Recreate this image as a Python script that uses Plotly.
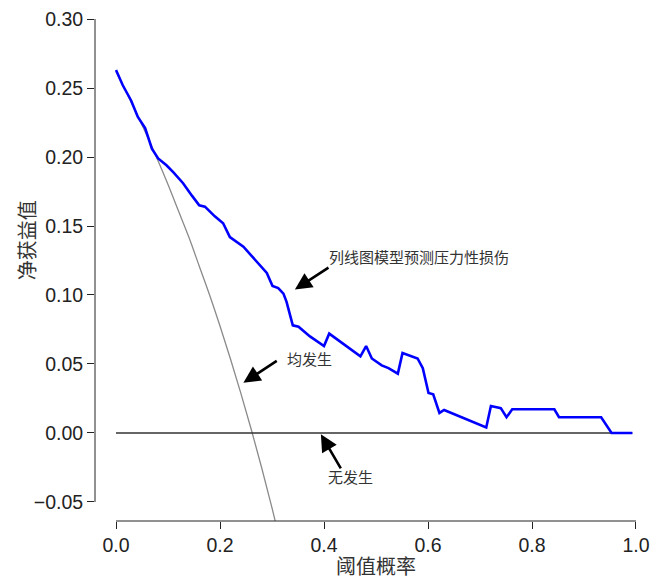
import plotly.graph_objects as go

# Model net benefit (blue)
model_x = [0.000, 0.013, 0.029, 0.042, 0.056, 0.069, 0.081, 0.097, 0.110, 0.129,
           0.146, 0.160, 0.171, 0.190, 0.206, 0.219, 0.245, 0.283, 0.290, 0.301,
           0.312, 0.322, 0.328, 0.340, 0.351, 0.373, 0.400, 0.410, 0.470, 0.481,
           0.492, 0.511, 0.524, 0.542, 0.551, 0.580, 0.590, 0.601, 0.610, 0.622,
           0.631, 0.712, 0.721, 0.740, 0.751, 0.762, 0.843, 0.852, 0.933, 0.953, 0.993]
model_y = [0.263, 0.252, 0.241, 0.229, 0.221, 0.206, 0.199, 0.194, 0.189, 0.181,
           0.172, 0.165, 0.164, 0.157, 0.152, 0.142, 0.135, 0.119, 0.116, 0.1065,
           0.105, 0.101, 0.095, 0.078, 0.077, 0.070, 0.063, 0.072, 0.0555, 0.063,
           0.054, 0.049, 0.047, 0.043, 0.058, 0.054, 0.047, 0.029, 0.028, 0.0145,
           0.0167, 0.004, 0.0195, 0.018, 0.0114, 0.0172, 0.0172, 0.0114, 0.0114, 0.0, 0.0]

# Treat-all net benefit (gray)
all_x = [0.00, 0.02, 0.04, 0.06, 0.08, 0.10, 0.12, 0.14, 0.16, 0.18, 0.20,
         0.22, 0.24, 0.26, 0.28, 0.30, 0.32]
all_y = [0.262, 0.247, 0.231, 0.215, 0.198, 0.180, 0.161, 0.142, 0.121, 0.100,
         0.0775, 0.0538, 0.0289, 0.0027, -0.025, -0.0543, -0.0853]

# Treat-none net benefit (black)
none_x = [0.0, 0.993]
none_y = [0.0, 0.0]

x_ticks = [0.0, 0.2, 0.4, 0.6, 0.8, 1.0]
x_tick_labels = ["0.0", "0.2", "0.4", "0.6", "0.8", "1.0"]
y_ticks = [-0.05, 0.00, 0.05, 0.10, 0.15, 0.20, 0.25, 0.30]
y_tick_labels = ["\u22120.05", "0.00", "0.05", "0.10", "0.15", "0.20", "0.25", "0.30"]

x_title = "阈值概率"
y_title = "净获益值"
label_model = "列线图模型预测压力性损伤"
label_all = "均发生"
label_none = "无发生"

CJK = "Noto Sans CJK SC"
NUM = "Liberation Sans, Arial, sans-serif"

fig = go.Figure()
fig.add_trace(go.Scatter(x=all_x, y=all_y, mode="lines",
                         line=dict(color="#8a8a8a", width=1.3, shape="spline"),
                         hoverinfo="skip"))
fig.add_trace(go.Scatter(x=none_x, y=none_y, mode="lines",
                         line=dict(color="#333333", width=1.5), hoverinfo="skip"))
fig.add_trace(go.Scatter(x=model_x, y=model_y, mode="lines",
                         line=dict(color="#0000ff", width=2.6), hoverinfo="skip"))

# detached axis lines (R style)
fig.add_shape(type="line", xref="x", yref="paper", x0=0, x1=1, y0=0, y1=0,
              line=dict(color="#222222", width=1))
fig.add_shape(type="line", xref="paper", yref="y", x0=0, x1=0, y0=-0.05, y1=0.30,
              line=dict(color="#222222", width=1))

# arrows: (head_x, head_y, tail_x, tail_y)
arrows = [(0.344, 0.104, 0.4115, 0.1205),
          (0.245, 0.0364, 0.312, 0.0529),
          (0.394, -0.001, 0.434, -0.0268)]
for hx, hy, tx, ty in arrows:
    fig.add_annotation(x=hx, y=hy, ax=tx, ay=ty, xref="x", yref="y",
                       axref="x", ayref="y", text="", showarrow=True,
                       arrowhead=2, arrowsize=1.3, arrowwidth=2.6,
                       arrowcolor="#000000")

txt_font = dict(family=CJK, size=15, color="#333333")
fig.add_annotation(x=0.406, y=0.128, xref="x", yref="y", text=label_model,
                   showarrow=False, xanchor="left", yanchor="middle", font=txt_font)
fig.add_annotation(x=0.325, y=0.0543, xref="x", yref="y", text=label_all,
                   showarrow=False, xanchor="left", yanchor="middle", font=txt_font)
fig.add_annotation(x=0.404, y=-0.0317, xref="x", yref="y", text=label_none,
                   showarrow=False, xanchor="left", yanchor="middle", font=txt_font)

title_font = dict(family=CJK, size=20, color="#333333")
fig.add_annotation(x=0.5, y=-0.0858, xref="paper", yref="paper", text=x_title,
                   showarrow=False, xanchor="center", yanchor="middle", font=title_font)
fig.add_annotation(x=-0.122, y=0.548, xref="paper", yref="paper", text=y_title,
                   showarrow=False, xanchor="center", yanchor="middle",
                   textangle=-90, font=title_font)

fig.update_xaxes(range=[-0.0404, 1.0404], tickvals=x_ticks, ticktext=x_tick_labels,
                 showgrid=False, zeroline=False, showline=False, automargin=False,
                 ticks="outside", ticklen=7, tickwidth=1, tickcolor="#222222",
                 ticklabeloverflow="allow",
                 tickfont=dict(family=NUM, size=19.5, color="#222222"))
fig.update_yaxes(range=[-0.0638, 0.3080], tickvals=y_ticks, ticktext=y_tick_labels,
                 showgrid=False, zeroline=False, showline=False, automargin=False,
                 ticks="outside", ticklen=7, tickwidth=1, tickcolor="#222222",
                 ticklabeloverflow="allow",
                 tickfont=dict(family=NUM, size=19.5, color="#222222"))

# the page body adds an 8px offset, so the figure is 660x571
fig.update_layout(width=660, height=571, showlegend=False,
                  margin=dict(l=87, r=11, t=0, b=58, pad=0),
                  plot_bgcolor="white", paper_bgcolor="white")

fig.write_html("out.html")
